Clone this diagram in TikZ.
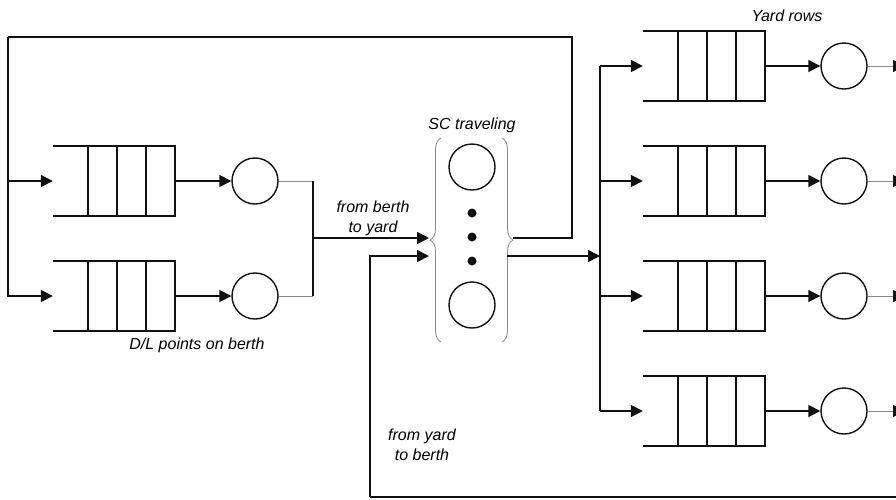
\documentclass[tikz,border=0pt]{standalone}
\usepackage{fontspec}
\setmainfont{Liberation Sans}
\usetikzlibrary{arrows.meta,decorations.pathreplacing}
\definecolor{ink}{HTML}{111111}
\definecolor{muted}{HTML}{8A8A8A}

\tikzset{
  queue/.style={minimum width=122pt,minimum height=69pt,inner sep=0pt},
  server/.style={circle,draw=ink,line width=1.4pt,minimum size=46pt,inner sep=0pt},
  link/.style={draw=ink,line width=1.7pt},
  flow/.style={link,-{Triangle[length=12pt,width=12pt]}},
  exit/.style={draw=muted,line width=1pt,-{Triangle[length=12pt,width=12pt,color=ink]}},
  caption/.style={font=\fontsize{16}{20}\selectfont\itshape,align=center,inner sep=0pt},
  scdot/.style={circle,fill=ink,minimum size=9pt,inner sep=0pt},
  scbrace/.style={draw=muted,line width=0.8pt,decorate,decoration={brace,amplitude=11pt}}
}

\begin{document}
\begin{tikzpicture}[x=1pt,y=-1pt]
  \useasboundingbox (0,0) rectangle (896,499);
  % queues (open on the left side)
  \foreach \q/\px/\py in {bq1/114/181,bq2/114/296,yq1/704/66,yq2/704/181,yq3/704/296,yq4/704/411} {
    \node[queue] (\q) at (\px,\py) {};
    \draw[link] (\q.north west) -- (\q.north east) -- (\q.south east) -- (\q.south west);
    \foreach \d in {35,64,93} \draw[link] ([xshift=\d pt]\q.north west) -- ([xshift=\d pt]\q.south west);
  }
  % servers
  \node[server] (bs1) at (255,181) {};
  \node[server] (bs2) at (255,296) {};
  \foreach \i/\py in {1/66,2/181,3/296,4/411} {
    \node[server] (ys\i) at (844,\py) {};
    \coordinate (out\i) at (905,\py);
    \draw[flow] (yq\i.east) -- (ys\i.west);
    \draw[exit] (ys\i.east) -- (out\i);
  }
  \draw[flow] (bq1.east) -- (bs1.west);
  \draw[flow] (bq2.east) -- (bs2.west);
  % SC traveling
  \node[server] (sc1) at (472,167) {};
  \node[server] (sc2) at (472,305) {};
  \node[scdot] (dot1) at (472,213) {};
  \node[scdot] (dot2) at (472,237) {};
  \node[scdot] (dot3) at (472,261) {};
  \draw[scbrace] (441,342) -- (441,138);
  \draw[scbrace] (502,138) -- (502,342);
  \coordinate (brL) at (429,238);
  \coordinate (brR) at (513,238);
  \coordinate (inB) at (429,256);
  \coordinate (outA) at (507,256);
  % berth side
  \coordinate (merge) at (313,238);
  \draw[muted,line width=1pt] (bs1.east) -- (bs1.east -| merge);
  \draw[muted,line width=1pt] (bs2.east) -- (bs2.east -| merge);
  \draw[link] (bs1.east -| merge) -- (bs2.east -| merge);
  \draw[flow] (merge) -- (brL);
  \coordinate (tl) at (8,37);
  \coordinate (tr) at (572,37);
  \draw[link] (brR) -| (tr) -- (tl);
  \draw[flow] (tl) |- (bq2.west);
  \draw[flow] (tl |- bq1.west) -- (bq1.west);
  % yard side
  \coordinate (split) at (600,256);
  \draw[flow] (outA) -- (split);
  \draw[link] (yq1.west -| split) -- (yq4.west -| split);
  \foreach \i in {1,...,4} \draw[flow] (yq\i.west -| split) -- (yq\i.west);
  \coordinate (ret) at (370,497);
  \coordinate (retR) at (900,497);
  \draw[link] (retR) -- (ret);
  \draw[flow] (ret) |- (inB);
  % labels
  \node[caption] (yardlbl) at (787,16) {Yard rows};
  \node[caption] (sclbl) at (472,125) {SC traveling};
  \node[caption] (dllbl) at (197,345) {D/L points on berth};
  \node[caption] (b2y) at (373,218) {from berth\\to yard};
  \node[caption] (y2b) at (422,445) {from yard\\to berth};
\end{tikzpicture}
\end{document}
